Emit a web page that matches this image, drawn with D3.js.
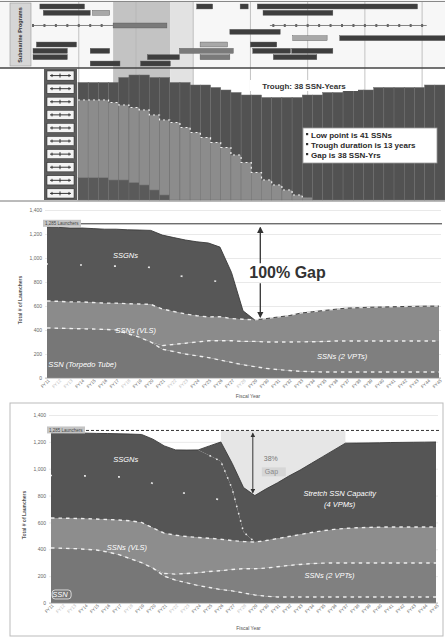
<!DOCTYPE html>
<html>
<head>
<meta charset="utf-8">
<script src="https://cdn.jsdelivr.net/npm/d3@7/dist/d3.min.js"></script>
<style>
  body { margin: 0; background: #fff; }
  svg { display: block; font-family: "Liberation Sans", Arial, sans-serif; }
  .grid .tick line { stroke: #e0e0e0; stroke-width: 0.7; }
  .grid .tick text { fill: #666; font-size: 5px; }
</style>
</head>
<body>
<svg width="445" height="638"></svg>
<script>
// ---- panel 1: program timeline ----
const gridYears = [1990, 1995, 2000, 2005, 2010, 2015, 2020];
const shadeSpans = [[1993, 1998], [1998, 2000]];
// [row, start, end, tone]
const ganttBars = [
  [0, 1986.6, 1990.5, 'd'], [0, 2000.3, 2001.7, 'd'], [0, 2004.1, 2004.8, 'd'], [0, 2005.6, 2019.6, 'd'],
  [1, 1986.9, 1991.0, 'd'], [1, 1991.2, 1992.7, 'l'], [1, 2006.1, 2012.2, 'd'],
  [3, 1993.0, 1997.7, 'm'],
  [4, 2003.2, 2007.6, 'd'],
  [5, 2008.7, 2011.7, 'l'], [5, 2012.8, 2022.0, 'd'],
  [6, 1986.3, 1989.8, 'd'], [6, 2000.6, 2003.0, 'l'], [6, 2005.0, 2007.3, 'd'],
  [7, 1986.0, 1989.0, 'd'], [7, 1991.0, 1992.7, 'd'], [7, 1998.8, 2003.5, 'm'], [7, 2005.2, 2008.5, 'd'], [7, 2008.6, 2012.2, 'd'],
  [8, 1986.0, 1989.0, 'd'], [8, 1996.0, 1998.8, 'd'], [8, 2000.6, 2003.2, 'm'], [8, 2007.0, 2010.8, 'd'],
  [9, 1991.0, 1993.6, 'd'], [9, 1995.4, 1998.0, 'd']
];
const milestoneRuns = [[3, 1986, 1993], [3, 2006.7, 2020.4]];

// ---- panel 2: attack submarine force (boats per year) ----
const oldBoats    = [9,9,9,8,8,7,6,4,2,0,0,0,0,0,0,0,0,0,0,0,0,0,0,0,0,0,0,0,0,0,0,0,0,0,0,0];
const legacyBoats = [31,31,31,31,30,30,30,30,30,31,29,27,25,23,21,18,15,11,8,6,4,2,1,0,0,0,0,0,0,0,0,0,0,0,0,0];
const newBoats    = [7,7,7,8,11,13,14,15,17,16,18,19,21,22,23,25,27,31,33,35,37,39,41,42,43,43,44,44,44,45,45,45,45,45,46,46];
const legendClasses = ['SSN-774 Blk V', 'SSN-774 Blk III', 'SSN-774', 'SSN-23', 'SSN-21', 'SSN-688I', 'SSN-688', 'SSGN', 'SSBN', 'SSN-637'];
const troughNotes = ['Low point is 41 SSNs', 'Trough duration is 13 years', 'Gap is 38 SSN-Yrs'];

// ---- panels 3 & 4: launchers ----
const fiscalYears = ['FY11','FY12','FY13','FY14','FY15','FY16','FY17','FY18','FY19','FY20',
  'FY21','FY22','FY23','FY24','FY25','FY26','FY27','FY28','FY29','FY30',
  'FY31','FY32','FY33','FY34','FY35','FY36','FY37','FY38','FY39','FY40',
  'FY41','FY42','FY43','FY44','FY45'];
const greyedYears = ['FY12', 'FY13', 'FY18', 'FY22', 'FY23', 'FY28'];
const launcherTicks = [0, 200, 400, 600, 800, 1000, 1200, 1400];
const capacityNow = 1285;

const tt3   = [417,415,412,410,408,405,400,370,340,300,240,220,200,185,170,150,130,110,95,80,70,62,56,52,50,50,50,50,50,50,50,50,50,50,50];
const vpt3  = [0,0,0,0,0,0,0,0,0,0,30,60,90,115,140,160,180,195,210,220,230,238,245,250,254,258,258,258,258,258,258,258,258,258,258];
const vls3  = [225,224,222,224,221,219,224,249,277,314,305,274,244,219,199,201,185,185,180,195,208,220,240,250,259,265,275,278,282,284,286,288,290,292,292];
const ssgn3 = [616,616,616,616,616,616,616,616,616,616,616,616,616,616,616,580,385,70,0,0,0,0,0,0,0,0,0,0,0,0,0,0,0,0,0];

const tt4      = [410,408,405,400,395,380,360,330,300,260,200,170,150,130,115,100,90,75,60,50,45,45,45,45,45,45,45,45,45,45,45,45,45,45,45];
const vpt4     = [0,0,0,0,0,0,0,0,0,0,20,45,70,95,120,140,160,180,195,210,225,235,242,248,252,253,253,253,253,253,253,253,253,253,253];
const vls4     = [223,224,225,228,230,242,258,282,300,300,300,290,275,263,247,235,215,203,199,205,210,215,223,232,241,250,258,262,265,267,268,268,268,268,268];
const ssgn4    = [633,634,635,637,638,640,642,646,655,660,650,635,644,652,616,580,385,70,0,0,0,0,0,0,0,0,0,0,0,0,0,0,0,0,0];
const stretch4 = [0,0,0,0,0,0,0,0,0,0,0,0,0,0,72,144,190,332,346,385,415,450,480,515,552,592,634,631,629,628,629,630,631,632,633];

const svg = d3.select('svg');

// ================= panel 1 =================
const gx = d3.scaleLinear().domain([1986, 2022]).range([33, 445]);
const gRow = d3.scaleBand().domain(d3.range(10)).range([4, 66]).paddingInner(0.22);
const tones = { d: '#3e3e3e', m: '#7a7a7a', l: '#a8a8a8' };

svg.append('rect').attr('x', 0).attr('y', 0).attr('width', 445).attr('height', 68).attr('fill', '#f7f7f7');

svg.selectAll('.shade').data(shadeSpans).join('rect')
  .attr('x', d => gx(d[0])).attr('width', d => gx(d[1]) - gx(d[0]))
  .attr('y', 2).attr('height', 198)
  .attr('fill', (d, i) => i === 0 ? '#c3c3c3' : '#e2e2e2');

svg.selectAll('.vgrid').data(gridYears).join('line')
  .attr('x1', d => gx(d)).attr('x2', d => gx(d))
  .attr('y1', 2).attr('y2', 200)
  .attr('stroke', '#b4b4b4').attr('stroke-width', 0.8);

svg.selectAll('.gbar').data(ganttBars).join('rect')
  .attr('x', d => gx(d[1])).attr('width', d => gx(d[2]) - gx(d[1]))
  .attr('y', d => gRow(d[0])).attr('height', gRow.bandwidth())
  .attr('fill', d => tones[d[3]])
  .attr('stroke', '#555').attr('stroke-width', 0.4);

milestoneRuns.forEach(m => {
  const yc = gRow(m[0]) + gRow.bandwidth() / 2;
  svg.append('line').attr('x1', gx(m[1])).attr('x2', gx(m[2]))
    .attr('y1', yc).attr('y2', yc).attr('stroke', '#777').attr('stroke-width', 0.9);
  svg.selectAll(null).data(d3.range(Math.ceil(m[1]), m[2])).join('rect')
    .attr('x', d => gx(d) - 1).attr('y', yc - 1.5).attr('width', 2).attr('height', 3)
    .attr('fill', '#666');
});

svg.append('rect').attr('x', 10).attr('y', 3).attr('width', 21).attr('height', 63)
  .attr('fill', '#d6d6d6').attr('stroke', '#999').attr('stroke-width', 0.6);
svg.append('text').attr('transform', 'translate(22,35) rotate(-90)')
  .attr('text-anchor', 'middle').attr('font-size', 5.5).attr('font-weight', 'bold')
  .attr('fill', '#333').text('Submarine Programs');
svg.append('line').attr('x1', 0).attr('x2', 445).attr('y1', 1.5).attr('y2', 1.5)
  .attr('stroke', '#888').attr('stroke-width', 1);
svg.append('line').attr('x1', 0).attr('x2', 445).attr('y1', 68).attr('y2', 68)
  .attr('stroke', '#444').attr('stroke-width', 1.4);

// ================= panel 2 =================
const bx = d3.scaleBand().domain(d3.range(newBoats.length)).range([78, 445]);
const by = d3.scaleLinear().domain([0, 52]).range([200, 70]);
const boatRows = newBoats.map((v, i) => ({ old: oldBoats[i], legacy: legacyBoats[i], fresh: v }));
const boatStack = d3.stack().keys(['old', 'legacy', 'fresh'])(boatRows);
const boatFill = { old: '#5a5a5a', legacy: '#8c8c8c', fresh: '#525252' };

svg.append('g').selectAll('g').data(boatStack).join('g')
  .attr('fill', d => boatFill[d.key])
  .selectAll('rect').data(d => d).join('rect')
  .attr('x', (d, i) => bx(i)).attr('width', bx.bandwidth())
  .attr('y', d => by(d[1])).attr('height', d => by(d[0]) - by(d[1]))
  .attr('stroke', '#6c6c6c').attr('stroke-width', 0.5);

const legacyTop = d3.line()
  .defined((d, i) => legacyBoats[i] > 0)
  .x((d, i) => bx(i)).y(d => by(d[1]))
  .curve(d3.curveStepAfter);
svg.append('path').attr('d', legacyTop(boatStack[1]))
  .attr('fill', 'none').attr('stroke', '#fff').attr('stroke-width', 1.2)
  .attr('stroke-dasharray', '2,3').attr('opacity', 0.9);

// legend column
svg.append('rect').attr('x', 44).attr('y', 69).attr('width', 33).attr('height', 131).attr('fill', '#5c5c5c');
const ly = d3.scaleBand().domain(legendClasses).range([71, 198]).paddingInner(0.3);
const lg = svg.append('g').selectAll('g').data(legendClasses).join('g')
  .attr('transform', d => `translate(47,${ly(d)})`);
lg.append('rect').attr('width', 27).attr('height', ly.bandwidth())
  .attr('fill', '#f4f4f4').attr('stroke', '#222').attr('stroke-width', 0.5);
lg.append('path')
  .attr('d', `M3,${ly.bandwidth() / 2}H24M5,${ly.bandwidth() / 2 - 1.5}v3M13,${ly.bandwidth() / 2 - 2}v4M22,${ly.bandwidth() / 2 - 1.5}v3`)
  .attr('stroke', '#222').attr('stroke-width', 0.9).attr('fill', 'none');

svg.append('rect').attr('x', 250).attr('y', 80).attr('width', 108).attr('height', 11).attr('fill', '#fff');
svg.append('text').attr('x', 304).attr('y', 89).attr('text-anchor', 'middle')
  .attr('font-size', 8).attr('font-weight', 'bold').attr('fill', '#333')
  .text('Trough: 38 SSN-Years');

svg.append('rect').attr('x', 303).attr('y', 128).attr('width', 134).attr('height', 35)
  .attr('fill', '#fff').attr('stroke', '#999').attr('stroke-width', 0.8);
troughNotes.forEach((t, i) => {
  svg.append('rect').attr('x', 306).attr('y', 133 + i * 10).attr('width', 2.2).attr('height', 2.2).attr('fill', '#333');
  svg.append('text').attr('x', 311).attr('y', 138 + i * 10)
    .attr('font-size', 8).attr('font-weight', 'bold').attr('fill', '#2a2a2a').text(t);
});
svg.append('line').attr('x1', 0).attr('x2', 445).attr('y1', 201).attr('y2', 201)
  .attr('stroke', '#777').attr('stroke-width', 1);

// ================= shared launcher panel =================
function launcherPanel(opt) {
  const g = svg.append('g');
  const x = d3.scaleLinear().domain([0, fiscalYears.length - 1]).range(opt.xr);
  const y = d3.scaleLinear().domain([0, 1400]).range(opt.yr);
  const stack = d3.stack().keys(opt.keys)(opt.rows);
  const top = stack[stack.length - 1];

  const yAxisG = g.append('g').attr('class', 'grid')
    .attr('transform', `translate(${opt.xr[0] - 2},0)`)
    .call(d3.axisLeft(y).tickValues(launcherTicks).tickFormat(d3.format(','))
      .tickSize(-(opt.xr[1] - opt.xr[0] + 4)).tickPadding(3));
  yAxisG.select('.domain').remove();

  if (opt.gapFrom !== undefined) {
    const gap = d3.area()
      .defined((d, i) => i >= opt.gapFrom && i <= opt.gapTo)
      .x((d, i) => x(i)).y0(y(capacityNow)).y1(d => y(d[1]));
    g.append('path').attr('d', gap(top)).attr('fill', '#e6e6e6');
  }

  const area = d3.area().x((d, i) => x(i)).y0(d => y(d[0])).y1(d => y(d[1]));
  g.selectAll('.layer').data(stack).join('path')
    .attr('d', area).attr('fill', d => opt.fills[d.key]);

  const edge = d3.line().x((d, i) => x(i)).y(d => y(d[1]));
  g.append('path').attr('d', edge(top)).attr('fill', 'none')
    .attr('stroke', '#3a3a3a').attr('stroke-width', 0.9);

  // white dashed boundaries between layers
  opt.dashed.forEach(k => {
    const idx = opt.keys.indexOf(k);
    const vals = opt.rows.map(r => r[k]);
    const line = d3.line()
      .defined((d, i) => vals[i] > 0 || (i > 0 && vals[i - 1] > 0))
      .x((d, i) => x(i)).y(d => y(d[1]));
    g.append('path').attr('d', line(stack[idx])).attr('fill', 'none')
      .attr('stroke', '#fff').attr('stroke-width', 1.4)
      .attr('stroke-dasharray', '3.5,4').attr('opacity', 0.85);
  });

  // sparse dots through the SSGN band
  const si = opt.keys.indexOf('ssgn');
  const mid = d3.line()
    .defined((d, i) => opt.rows[i].ssgn > 300)
    .x((d, i) => x(i)).y(d => y((d[0] + d[1]) / 2));
  g.append('path').attr('d', mid(stack[si])).attr('fill', 'none')
    .attr('stroke', '#fff').attr('stroke-width', 1.6)
    .attr('stroke-dasharray', '2,32').attr('stroke-dashoffset', 1).attr('opacity', 0.85);

  // capacity reference line
  g.append('line').attr('x1', x(0)).attr('x2', opt.xr[1] + 3)
    .attr('y1', y(capacityNow)).attr('y2', y(capacityNow))
    .attr('stroke', '#333').attr('stroke-width', 1)
    .attr('stroke-dasharray', opt.capDash);
  g.append('rect').attr('x', x(0) - 4).attr('y', y(capacityNow) - 4)
    .attr('width', 38).attr('height', 7).attr('fill', '#c4c4c4');
  g.append('text').attr('x', x(0) - 2).attr('y', y(capacityNow) + 1.5)
    .attr('font-size', 4.5).attr('fill', '#444').text('1,285 Launchers');

  // baseline + fiscal year ticks
  g.append('line').attr('x1', opt.xr[0] - 2).attr('x2', opt.xr[1] + 2)
    .attr('y1', y(0)).attr('y2', y(0)).attr('stroke', '#999').attr('stroke-width', 0.6);
  g.selectAll('.fy').data(fiscalYears).join('text')
    .attr('transform', (d, i) => `translate(${x(i) + 3},${y(0) + 3}) rotate(-45)`)
    .attr('text-anchor', 'end').attr('font-size', 4.5)
    .attr('fill', d => greyedYears.includes(d) ? '#bbb' : '#666')
    .text(d => d);
  g.append('text').attr('x', (opt.xr[0] + opt.xr[1]) / 2 + 5).attr('y', opt.titleY)
    .attr('text-anchor', 'middle').attr('font-size', 5).attr('fill', '#555').text('Fiscal Year');
  g.append('text')
    .attr('transform', `translate(${opt.xr[0] - 25},${(y(0) + y(1400)) / 2 + 6}) rotate(-90)`)
    .attr('text-anchor', 'middle').attr('font-size', 5).attr('font-weight', 'bold')
    .attr('fill', '#555').text('Total # of Launchers');

  opt.labels.forEach(l => {
    g.append('text').attr('x', x(l[1])).attr('y', y(l[2]))
      .attr('text-anchor', l[3] || 'middle').attr('font-size', 7.5)
      .attr('font-style', 'italic').attr('fill', '#fff').text(l[0]);
  });

  return { g, x, y, top };
}

// ================= panel 3 =================
const rows3 = fiscalYears.map((fy, i) => ({ fy, tt: tt3[i], vpt: vpt3[i], vls: vls3[i], ssgn: ssgn3[i] }));
const p3 = launcherPanel({
  rows: rows3, keys: ['tt', 'vpt', 'vls', 'ssgn'],
  fills: { tt: '#777777', vpt: '#7f7f7f', vls: '#8b8b8b', ssgn: '#575757' },
  dashed: ['tt', 'vpt', 'vls'],
  xr: [47, 439], yr: [378, 210], capDash: null, titleY: 398,
  labels: [['SSGNs', 6.8, 1000], ['SSNs (VLS)', 7.7, 372], ['SSNs (2 VPTs)', 25.6, 158], ['SSN (Torpedo Tube)', 0.1, 92, 'start']]
});
{
  const totals = p3.top.map(d => d[1]);
  const lowIdx = d3.minIndex(totals);
  const ax = p3.x(lowIdx + 0.5);
  const yCap = p3.y(capacityNow) + 1, yLow = p3.y(totals[lowIdx]);
  const midY = (yCap + yLow) / 2;
  svg.append('defs').html(
    '<marker id="ah" viewBox="0 0 10 10" refX="8" refY="5" markerWidth="5" markerHeight="5" orient="auto-start-reverse">' +
    '<path d="M0,0L10,5L0,10z" fill="#333"/></marker>');
  svg.append('line').attr('x1', ax).attr('x2', ax).attr('y1', midY - 9).attr('y2', yCap + 3)
    .attr('stroke', '#333').attr('stroke-width', 1.3).attr('marker-end', 'url(#ah)');
  svg.append('line').attr('x1', ax).attr('x2', ax).attr('y1', midY + 11).attr('y2', yLow - 3)
    .attr('stroke', '#333').attr('stroke-width', 1.3).attr('marker-end', 'url(#ah)');
  svg.append('text').attr('x', ax - 11).attr('y', midY + 6)
    .attr('font-size', 16).attr('font-weight', 'bold').attr('fill', '#333').text('100% Gap');
}

// ================= panel 4 =================
svg.append('rect').attr('x', 10).attr('y', 403).attr('width', 433).attr('height', 233)
  .attr('fill', 'none').attr('stroke', '#bbb').attr('stroke-width', 1);
const rows4 = fiscalYears.map((fy, i) => ({ fy, tt: tt4[i], vpt: vpt4[i], vls: vls4[i], ssgn: ssgn4[i], stretch: stretch4[i] }));
const p4 = launcherPanel({
  rows: rows4, keys: ['tt', 'vpt', 'vls', 'ssgn', 'stretch'],
  fills: { tt: '#777777', vpt: '#808080', vls: '#8d8d8d', ssgn: '#555555', stretch: '#555555' },
  dashed: ['tt', 'vpt', 'vls'],
  xr: [51, 436], yr: [603, 415], capDash: '3,2', titleY: 630,
  gapFrom: 15, gapTo: 26,
  labels: [['SSGNs', 6.6, 1050], ['Stretch SSN Capacity', 25.5, 797], ['(4 VPMs)', 25.5, 715],
           ['SSNs (VLS)', 6.7, 395], ['SSNs (2 VPTs)', 24.6, 186], ['SSN', 0.8, 45]]
});
{
  const ssgnTop = d3.line()
    .defined((d, i) => stretch4[i] > 0 && (ssgn4[i] > 0 || ssgn4[i - 1] > 0))
    .x((d, i) => p4.x(i)).y((d, i) => p4.y(tt4[i] + vpt4[i] + vls4[i] + ssgn4[i]));
  p4.g.append('path').attr('d', ssgnTop(rows4)).attr('fill', 'none')
    .attr('stroke', '#fff').attr('stroke-width', 1.6).attr('stroke-dasharray', '1.5,6').attr('opacity', 0.85);

  const totals = p4.top.map(d => d[1]);
  const lowIdx = d3.minIndex(totals);
  const ax = p4.x(lowIdx) - 2;
  svg.append('line').attr('x1', ax).attr('x2', ax)
    .attr('y1', p4.y(capacityNow) + 3).attr('y2', p4.y(totals[lowIdx]) - 3)
    .attr('stroke', '#333').attr('stroke-width', 1)
    .attr('marker-start', 'url(#ah)').attr('marker-end', 'url(#ah)');
  const pct = Math.round((capacityNow - totals[lowIdx]) / capacityNow * 100);
  svg.append('text').attr('x', ax + 11).attr('y', p4.y(1055))
    .attr('font-size', 7).attr('fill', '#777').text(pct + '%');
  svg.append('rect').attr('x', ax + 9).attr('y', p4.y(1010)).attr('width', 24).attr('height', 9).attr('fill', '#d6d6d6');
  svg.append('text').attr('x', ax + 12).attr('y', p4.y(1010) + 7)
    .attr('font-size', 7).attr('fill', '#888').text('Gap');
  p4.g.append('rect').attr('x', p4.x(0.1)).attr('y', p4.y(45) - 7).attr('width', 19).attr('height', 9)
    .attr('rx', 3).attr('fill', 'none').attr('stroke', '#fff').attr('stroke-width', 0.7);
}
</script>
</body>
</html>
